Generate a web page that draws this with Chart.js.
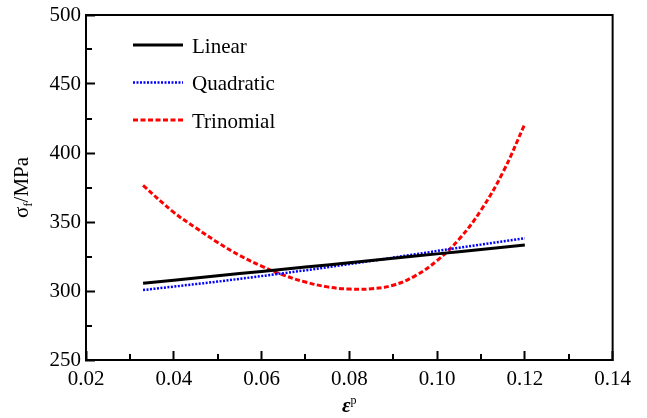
<!DOCTYPE html>
<html>
<head>
<meta charset="utf-8">
<title>Flow stress fits</title>
<script src="https://cdn.jsdelivr.net/npm/chart.js@4.4.1/dist/chart.umd.min.js"></script>
<style>
  html, body { margin: 0; padding: 0; background: #fff; }
</style>
</head>
<body>
<canvas id="stress" width="647" height="418"></canvas>
<script>
"use strict";

// plastic strain samples and fitted flow stress (MPa)
const strain = [0.033, 0.04, 0.045, 0.05, 0.055, 0.06, 0.065, 0.07, 0.075, 0.08,
                0.085, 0.09, 0.095, 0.10, 0.105, 0.11, 0.115, 0.12];
const linearStress = [305.6, 307.8, 309.4, 311.0, 312.6, 314.2, 315.8, 317.4, 318.9, 320.5,
                      322.1, 323.7, 325.3, 326.9, 328.5, 330.1, 331.7, 333.3];
const quadraticStress = [300.7, 303.2, 305.0, 306.8, 308.8, 310.8, 312.9, 315.0, 317.2, 319.5,
                         321.8, 324.2, 326.6, 329.0, 331.3, 333.6, 335.9, 338.2];
const trinomialStress = [376.5, 357.0, 345.8, 335.2, 325.8, 318.0, 311.5, 306.5, 303.0, 301.4,
                         301.6, 304.2, 311.0, 322.0, 337.5, 358.5, 386.0, 421.0];

const seriesNames = ['Linear', 'Quadratic', 'Trinomial'];

const xTicks = [0.02, 0.04, 0.06, 0.08, 0.10, 0.12, 0.14];
const xMinor = [0.03, 0.05, 0.07, 0.09, 0.11, 0.13];
const yTicks = [250, 300, 350, 400, 450, 500];
const yMinor = [275, 325, 375, 425, 475];

const SERIF = "'Liberation Serif', 'Times New Roman', serif";

const points = (ys) => strain.map((x, i) => ({ x: x, y: ys[i] }));

// top/right frame plus the short unlabelled ticks
const framePlugin = {
  id: 'frame',
  afterDraw(chart) {
    const { ctx, chartArea: a, scales: { x, y } } = chart;
    ctx.save();
    ctx.strokeStyle = '#000';
    ctx.lineWidth = 2;
    ctx.beginPath();
    ctx.moveTo(a.left - 1, a.top);
    ctx.lineTo(a.right, a.top);
    ctx.lineTo(a.right, a.bottom + 1);
    xMinor.forEach(v => {
      const px = Math.round(x.getPixelForValue(v));
      ctx.moveTo(px, a.bottom);
      ctx.lineTo(px, a.bottom - 6);
    });
    yMinor.forEach(v => {
      const py = Math.round(y.getPixelForValue(v));
      ctx.moveTo(a.left, py);
      ctx.lineTo(a.left + 6, py);
    });
    ctx.stroke();
    ctx.restore();
  }
};

// axis titles with sub/superscripts
const titlesPlugin = {
  id: 'axisTitles',
  afterDraw(chart) {
    const { ctx, chartArea: a } = chart;
    ctx.save();
    ctx.fillStyle = '#000';
    ctx.textBaseline = 'alphabetic';

    // y title: σ_f/MPa, rotated
    ctx.translate(28, (a.top + a.bottom) / 2);
    ctx.rotate(-Math.PI / 2);
    const parts = [
      { t: 'σ', f: '21px ' + SERIF, dy: 0 },
      { t: 'f', f: '13px ' + SERIF, dy: 4 },
      { t: '/MPa', f: '21px ' + SERIF, dy: 0 }
    ];
    let w = 0;
    parts.forEach(p => { ctx.font = p.f; w += ctx.measureText(p.t).width; });
    let cx = -w / 2;
    parts.forEach(p => {
      ctx.font = p.f;
      ctx.fillText(p.t, cx, p.dy);
      cx += ctx.measureText(p.t).width;
    });
    ctx.setTransform(1, 0, 0, 1, 0, 0);

    // x title: ε^p
    const xc = (a.left + a.right) / 2;
    ctx.font = 'italic bold 21px ' + SERIF;
    const ew = ctx.measureText('ε').width;
    ctx.font = '12px ' + SERIF;
    const pw = ctx.measureText('p').width;
    const sx = xc - (ew + pw) / 2;
    ctx.font = 'italic bold 21px ' + SERIF;
    ctx.fillText('ε', sx, 412);
    ctx.font = '12px ' + SERIF;
    ctx.fillText('p', sx + ew, 404);
    ctx.restore();
  }
};

// legend drawn inside the plot area
const insetLegend = {
  id: 'insetLegend',
  afterDraw(chart) {
    const { ctx, chartArea: a } = chart;
    ctx.save();
    ctx.font = '21px ' + SERIF;
    ctx.textBaseline = 'middle';
    ctx.fillStyle = '#000';
    chart.data.datasets.forEach((ds, i) => {
      const y = a.top + 30 + i * 37.5;
      const x0 = a.left + 47;
      ctx.strokeStyle = ds.borderColor;
      ctx.lineWidth = ds.borderWidth;
      ctx.setLineDash(ds.borderDash || []);
      ctx.beginPath();
      ctx.moveTo(x0, y);
      ctx.lineTo(x0 + 50, y);
      ctx.stroke();
      ctx.setLineDash([]);
      ctx.fillText(ds.label, x0 + 59, y + 2);
    });
    ctx.restore();
  }
};

const tickFont = { family: SERIF, size: 21 };

new Chart(document.getElementById('stress'), {
  type: 'scatter',
  data: {
    datasets: [
      {
        label: seriesNames[0],
        data: points(linearStress),
        borderColor: '#000000',
        borderWidth: 3,
      },
      {
        label: seriesNames[1],
        data: points(quadraticStress),
        borderColor: '#0000ff',
        borderWidth: 2.5,
        borderDash: [2, 1.5],
      },
      {
        label: seriesNames[2],
        data: points(trinomialStress),
        borderColor: '#ff0000',
        borderWidth: 3,
        borderDash: [5, 2.5],
        tension: 0.4,
      },
    ].map(ds => Object.assign({ showLine: true, pointRadius: 0, fill: false }, ds)),
  },
  options: {
    responsive: false,
    animation: false,
    layout: { padding: { top: 15, right: 33, left: 0, bottom: 0 } },
    plugins: {
      legend: { display: false },
      tooltip: { enabled: false },
    },
    scales: {
      x: {
        type: 'linear',
        min: 0.02,
        max: 0.14,
        afterBuildTicks: s => { s.ticks = xTicks.map(v => ({ value: v })); },
        afterFit: s => { s.height = 58; },
        ticks: {
          font: tickFont,
          color: '#000',
          padding: 16,
          maxRotation: 0,
          callback: v => v.toFixed(2),
        },
        grid: {
          drawOnChartArea: false,
          tickLength: -9,
          tickWidth: 2,
          tickColor: '#000',
        },
        border: { color: '#000', width: 2 },
      },
      y: {
        type: 'linear',
        min: 250,
        max: 500,
        afterBuildTicks: s => { s.ticks = yTicks.map(v => ({ value: v })); },
        afterFit: s => {
          s.width = 86;
          s.paddingTop = 0;
          s.paddingBottom = 0;
        },
        ticks: {
          font: tickFont,
          color: '#000',
          padding: 14,
          callback: v => String(v),
        },
        grid: {
          drawOnChartArea: false,
          tickLength: -9,
          tickWidth: 2,
          tickColor: '#000',
        },
        border: { color: '#000', width: 2 },
      },
    },
  },
  plugins: [framePlugin, titlesPlugin, insetLegend],
});
</script>
</body>
</html>
